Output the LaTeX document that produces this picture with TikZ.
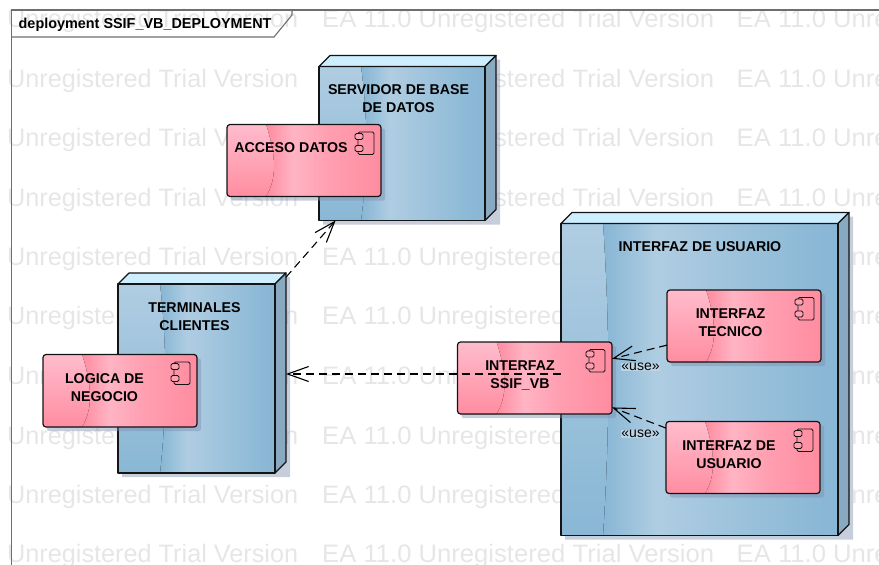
\documentclass[tikz,border=0pt]{standalone}
\usepackage{fontspec}
\setmainfont{Liberation Sans}
\newfontfamily\wmwide[FakeStretch=1.0156]{Liberation Sans}
\usetikzlibrary{arrows.meta}
\definecolor{wm}{HTML}{E6E6E6}
\definecolor{framegray}{HTML}{6E6E6E}
\definecolor{edge}{HTML}{141414}
\definecolor{nlight}{HTML}{AFCDE2}
\definecolor{ndark}{HTML}{89B7D5}
\definecolor{ntop}{HTML}{CDEEFF}
\definecolor{nside}{HTML}{88A9BF}
\definecolor{plight}{HTML}{FFBCCC}
\definecolor{pmid}{HTML}{FFB4C4}
\definecolor{pdark}{HTML}{FF8DA1}
\definecolor{shadowc}{HTML}{8090B0}
\definecolor{uselabel}{HTML}{BBD3E5}
\pgfdeclarehorizontalshading{compbase}{100bp}{color(0bp)=(pdark); color(38bp)=(pdark); color(46.5bp)=(pmid); color(58bp)=(pdark!55!pmid); color(74bp)=(pdark); color(100bp)=(pdark)}
\tikzset{
  wmtext/.style={anchor=west,inner sep=0pt,text=wm,font=\fontsize{25.25}{25.25}\selectfont},
  wmwidetext/.style={anchor=west,inner sep=0pt,text=wm,font=\wmwide\fontsize{25.25}{25.25}\selectfont},
  face/.style={draw=edge,line width=1.2pt,line join=round},
  boundbox/.style={rectangle,inner sep=0pt,outer sep=0pt},
  complabel/.style={align=center,inner sep=0pt,text=black,font=\bfseries\fontsize{14.2}{18}\selectfont},
  frameline/.style={draw=framegray,line width=1.1pt},
  dep/.style={draw=black,line width=1.1pt,dash pattern=on 8pt off 5pt,-{Straight Barb[length=21pt,width=15pt,line width=1.1pt]}},
  uselbl/.style={inner sep=0.5pt,fill=uselabel,text=black,font=\fontsize{14}{14}\selectfont},
}
% name, x1, y1, x2, y2
\newcommand{\deploynode}[5]{%
  \fill[shadowc,opacity=.45] (#4,#3-7) -- (#4+15,#3-7) -- (#4+15,#5+4) -- (#2+4,#5+4) -- (#2+4,#5) -- (#4,#5) -- cycle;
  \pgfmathsetmacro\lx{#2+44+.22*(#4-#2-44)}\pgfmathsetmacro\rx{#4-.05*(#4-#2)}
  \fill[ndark] (#2,#3) rectangle (#4,#5);
  \fill[left color=ndark,right color=nlight] (#2+44,#3) rectangle (\lx,#5);
  \fill[left color=nlight,right color=ndark] (\lx,#3) rectangle (\rx,#5);
  \pgfmathsetmacro\ya{#3+.3*(#5-#3)}\pgfmathsetmacro\yb{#3+.6*(#5-#3)}
  \fill[top color=nlight,bottom color=ndark] (#2,#3) -- (#2+42,#3) .. controls (#2+48,\ya) and (#2+50,\yb) .. (#2+42,#5) -- (#2,#5) -- cycle;
  \path[face,fill=ntop] (#2,#3) -- (#2+11,#3-11) -- (#4+11,#3-11) -- (#4,#3) -- cycle;
  \path[face,fill=nside] (#4,#3) -- (#4+11,#3-11) -- (#4+11,#5-11) -- (#4,#5) -- cycle;
  \path[face] (#2,#3) rectangle (#4,#5);
  \pgfmathsetmacro\cx{(#2+#4+11)/2}\pgfmathsetmacro\cy{(#3-11+#5)/2}
  \pgfmathsetmacro\bw{#4+11-#2}\pgfmathsetmacro\bh{#5-#3+11}
  \node[boundbox,minimum width=\bw pt,minimum height=\bh pt] (#1) at (\cx,\cy) {};
}
% name, x1, y1, x2, y2
\newcommand{\compnode}[5]{%
  \fill[shadowc,opacity=.45,rounded corners=2pt] (#2+4,#3+4) rectangle (#4+4,#5+4);
  \begin{scope}
    \clip[rounded corners=3pt] (#2,#3) rectangle (#4,#5);
    \fill[shading=compbase] (#2,#3) rectangle (#4,#5);
    \pgfmathsetmacro\ya{#3+.35*(#5-#3)}\pgfmathsetmacro\yb{#3+.7*(#5-#3)}
    \fill[top color=plight,bottom color=pdark] (#2,#3) -- (#2+39,#3) .. controls (#2+47,\ya) and (#2+52,\yb) .. (#2+39,#5) -- (#2,#5) -- cycle;
  \end{scope}
  \pgfmathsetmacro\cx{(#2+#4)/2}\pgfmathsetmacro\cy{(#3+#5)/2}
  \pgfmathsetmacro\bw{#4-#2}\pgfmathsetmacro\bh{#5-#3}
  \node[boundbox,draw=edge,line width=1.2pt,rounded corners=3pt,minimum width=\bw pt,minimum height=\bh pt] (#1) at (\cx,\cy) {};
  \draw[edge,line width=.9pt,rounded corners=1.5pt] (#4-23,#3+7.5) rectangle (#4-7,#3+30);
  \draw[edge,line width=.9pt,fill=pdark!60!plight,rounded corners=1.5pt] (#4-26,#3+9) rectangle (#4-18,#3+15);
  \draw[edge,line width=.9pt,fill=pdark!60!plight,rounded corners=1.5pt] (#4-26,#3+21) rectangle (#4-18,#3+27);
}
\begin{document}
\begin{tikzpicture}[x=1pt,y=-1pt]
\useasboundingbox (0,0) rectangle (879,565);
\clip (0,0) rectangle (879,565);
% watermark
\foreach \r/\yy in {a/21,b/81,c/140,d/200,e/259,f/318,g/378,h/438,i/497,j/556}{
  \node[wmtext] (wm\r1) at (7,\yy) {Unregistered Trial Version};
  \node[wmwidetext] (wm\r2) at (322,\yy) {EA 11.0 Unregistered Trial Version};
  \node[wmwidetext] (wm\r3) at (736.5,\yy) {EA 11.0 Unregistered Trial Version};
}
% frame
\draw[frameline] (11.5,565) -- (11.5,10) -- (879,10);
\draw[frameline] (11.5,37) -- (274,37) -- (292,15) -- (292,10);
\node[anchor=west,inner sep=0pt,font=\bfseries\fontsize{14.4}{16}\selectfont] (title) at (18.5,25) {deployment SSIF\_VB\_DEPLOYMENT};
% deployment nodes
\deploynode{serv}{319}{66.5}{485}{220.5}
\deploynode{term}{118}{284}{275}{473}
\deploynode{iu}{561}{223.5}{838}{535.5}
% components
\compnode{acceso}{227}{124.5}{381}{196.5}
\compnode{logica}{43}{354.5}{197}{427}
\compnode{ssif}{457.5}{342}{612}{414}
\compnode{tecnico}{667}{290}{821}{362}
\compnode{usuario}{666}{421.5}{820}{493.5}
% labels
\node[complabel] (servlbl) at (398.5,99) {SERVIDOR DE BASE\\DE DATOS};
\node[complabel] (termlbl) at (194.5,317) {TERMINALES\\CLIENTES};
\node[complabel] (iulbl) at (700,247) {INTERFAZ DE USUARIO};
\node[complabel] (accesolbl) at (291,148) {ACCESO DATOS};
\node[complabel] (logicalbl) at (104.5,388) {LOGICA DE\\NEGOCIO};
\node[complabel] (ssiflbl) at (520,375) {INTERFAZ\\SSIF\_VB};
\node[complabel] (tecnicolbl) at (730.5,323) {INTERFAZ\\TECNICO};
\node[complabel] (usuariolbl) at (729,454.5) {INTERFAZ DE\\USUARIO};
% connectors
\draw[dep] (term) -- (serv);
\draw[dep] (iu) -- (iu -| term.east);
\draw[dep] (tecnico) -- (ssif);
\draw[dep] (usuario) -- (ssif);
\node[uselbl] (use1) at (640.5,367) {«use»};
\node[uselbl] (use2) at (640.5,434) {«use»};
\end{tikzpicture}
\end{document}
